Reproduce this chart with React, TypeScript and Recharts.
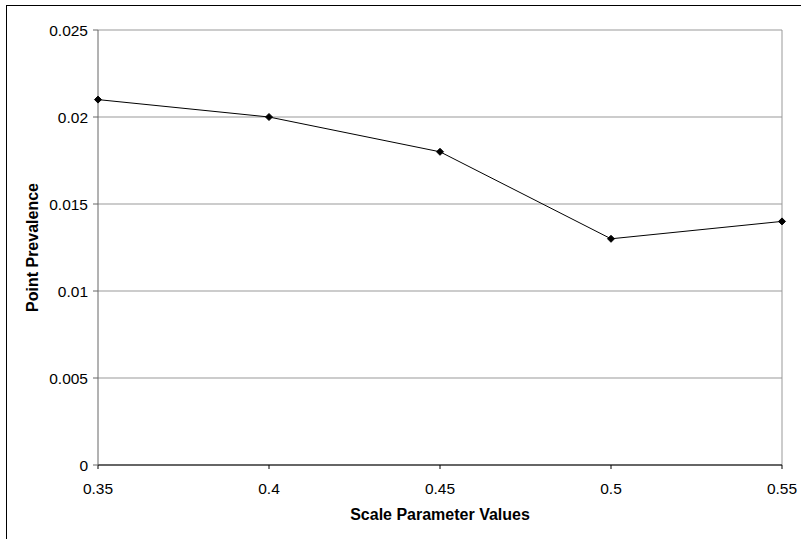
import React from 'react';
import { LineChart, Line, XAxis, YAxis, CartesianGrid, ReferenceLine } from 'recharts';

const scaleValues = [0.35, 0.4, 0.45, 0.5, 0.55];
const prevalence = [0.021, 0.02, 0.018, 0.013, 0.014];
const yTicks = [0, 0.005, 0.01, 0.015, 0.02, 0.025];

const data = scaleValues.map((x, i) => ({ x, y: prevalence[i] }));

const FONT = '"Liberation Sans", Arial, sans-serif';

const Diamond = (props: any) => {
  const { cx, cy } = props;
  if (cx == null || cy == null) return null;
  const r = 3.5;
  return (
    <polygon
      points={`${cx},${cy - r} ${cx + r},${cy} ${cx},${cy + r} ${cx - r},${cy}`}
      fill="#000"
      stroke="#000"
    />
  );
};

export default function App() {
  return (
    <div style={{ position: 'absolute', left: 0, top: 0, width: 801, height: 539, background: '#fff', overflow: 'hidden' }}>
      <div style={{ position: 'absolute', left: 6, top: 5, width: 820, height: 560, border: '1px solid #000', boxSizing: 'border-box' }} />
      <LineChart
        width={801}
        height={539}
        data={data}
        margin={{ top: 30, right: 19, bottom: 0, left: 38 }}
        style={{ position: 'absolute', left: 0, top: 0, fontFamily: FONT }}
      >
        <CartesianGrid vertical={false} stroke="#999" />
        <ReferenceLine x={0.55} stroke="#999" />
        <XAxis
          dataKey="x"
          type="number"
          domain={[0.35, 0.55]}
          ticks={scaleValues}
          tickFormatter={(v) => String(v)}
          stroke="#000"
          tick={{ fill: '#000', fontSize: 15.5, fontFamily: FONT }}
          tickSize={4}
          tickMargin={14}
          height={74}
          label={{ value: 'Scale Parameter Values', position: 'insideTop', offset: 44, fill: '#000', fontSize: 16, fontWeight: 'bold', fontFamily: FONT }}
        />
        <YAxis
          type="number"
          domain={[0, 0.025]}
          ticks={yTicks}
          tickFormatter={(v) => String(v)}
          stroke="#666"
          tick={{ fill: '#000', fontSize: 15.5, fontFamily: FONT }}
          tickSize={5}
          tickMargin={5}
          width={60}
          label={{ value: 'Point Prevalence', angle: -90, position: 'insideLeft', offset: 0, dx: -6, fill: '#000', fontSize: 16, fontWeight: 'bold', fontFamily: FONT, style: { textAnchor: 'middle' } }}
        />
        <Line
          dataKey="y"
          stroke="#000"
          strokeWidth={1}
          dot={<Diamond />}
          activeDot={false}
          isAnimationActive={false}
        />
      </LineChart>
    </div>
  );
}
